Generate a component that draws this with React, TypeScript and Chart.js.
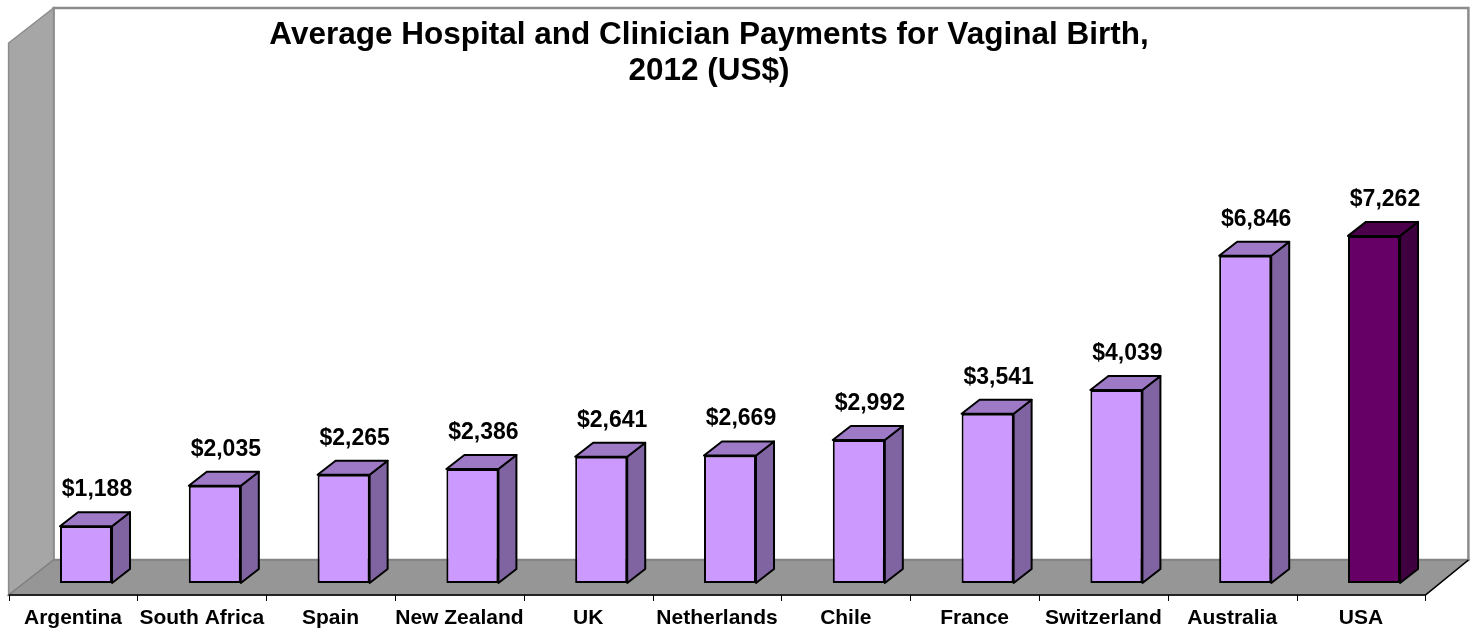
import { useEffect, useRef } from "react";
import { Chart, registerables } from "chart.js";

Chart.register(...registerables);

const categories = [
  "Argentina",
  "South Africa",
  "Spain",
  "New Zealand",
  "UK",
  "Netherlands",
  "Chile",
  "France",
  "Switzerland",
  "Australia",
  "USA",
];
const payments = [1188, 2035, 2265, 2386, 2641, 2669, 2992, 3541, 4039, 6846, 7262];
const titleLines = ["Average Hospital and Clinician Payments for Vaginal Birth,", "2012 (US$)"];
const highlighted = "USA";

const FONT = '"Liberation Sans", Arial, Helvetica, sans-serif';

const FRONT = "#cc99ff";
const SIDE = "#8064a2";
const TOP = "#9e7ac6";
const H_FRONT = "#660066";
const H_SIDE = "#3f003f";
const H_TOP = "#4c004c";

const DEPTH_X = 18;
const DEPTH_Y = -14;

const scene3d = {
  id: "scene3d",
  beforeDraw(chart: any) {
    const { ctx, chartArea: ca } = chart;
    const fx = -13;
    const fy = 12;
    const bx = 32;
    const by = -23;
    const frontY = ca.bottom + fy;
    const backY = ca.bottom + by;
    const frontL = ca.left + fx;
    const frontR = ca.right + fx;
    const backL = ca.left + bx;
    const backR = ca.right + bx - 2;
    const wallTop = 8;
    const sideTopFront = wallTop + (frontY - backY);
    ctx.save();
    ctx.lineJoin = "miter";
    // back wall
    ctx.beginPath();
    ctx.rect(backL, wallTop, backR - backL, backY - wallTop);
    ctx.fillStyle = "#ffffff";
    ctx.fill();
    ctx.lineWidth = 2.5;
    ctx.strokeStyle = "#8c8c8c";
    ctx.stroke();
    // side wall
    ctx.beginPath();
    ctx.moveTo(frontL, sideTopFront);
    ctx.lineTo(backL, wallTop);
    ctx.lineTo(backL, backY);
    ctx.lineTo(frontL, frontY);
    ctx.closePath();
    ctx.fillStyle = "#a6a6a6";
    ctx.fill();
    ctx.lineWidth = 1.5;
    ctx.strokeStyle = "#8c8c8c";
    ctx.stroke();
    // floor
    ctx.beginPath();
    ctx.moveTo(frontL, frontY);
    ctx.lineTo(backL, backY);
    ctx.lineTo(backR, backY);
    ctx.lineTo(frontR, frontY);
    ctx.closePath();
    ctx.fillStyle = "#969696";
    ctx.fill();
    ctx.strokeStyle = "#808080";
    ctx.lineWidth = 1.5;
    ctx.stroke();
    // front edge + right edge
    ctx.beginPath();
    ctx.moveTo(frontL, frontY);
    ctx.lineTo(frontR, frontY);
    ctx.lineTo(backR, backY);
    ctx.strokeStyle = "#000000";
    ctx.lineWidth = 1.5;
    ctx.stroke();
    // tick marks at category boundaries
    const n = chart.data.labels.length;
    const band = (ca.right - ca.left) / n;
    ctx.beginPath();
    for (let k = 0; k <= n; k++) {
      const x = Math.round(frontL + k * band) + 0.5;
      ctx.moveTo(x, frontY);
      ctx.lineTo(x, frontY + 6);
    }
    ctx.lineWidth = 1;
    ctx.stroke();
    // title
    ctx.font = `bold 31.5px ${FONT}`;
    ctx.fillStyle = "#000000";
    ctx.textAlign = "center";
    ctx.textBaseline = "middle";
    titleLines.forEach((line, i) => {
      ctx.fillText(line, 709, 35 + i * 36);
    });
    ctx.restore();
  },
  beforeDatasetsDraw(chart: any) {
    const { ctx } = chart;
    const meta = chart.getDatasetMeta(0);
    ctx.save();
    ctx.lineJoin = "round";
    ctx.lineWidth = 2;
    ctx.strokeStyle = "#000000";
    meta.data.forEach((el: any, i: number) => {
      const hi = chart.data.labels[i] === highlighted;
      const l = el.x - el.width / 2;
      const r = el.x + el.width / 2;
      const t = el.y;
      const b = el.base;
      // side
      ctx.beginPath();
      ctx.moveTo(r, t);
      ctx.lineTo(r + DEPTH_X, t + DEPTH_Y);
      ctx.lineTo(r + DEPTH_X, b + DEPTH_Y);
      ctx.lineTo(r, b);
      ctx.closePath();
      ctx.fillStyle = hi ? H_SIDE : SIDE;
      ctx.fill();
      ctx.stroke();
      // top
      ctx.beginPath();
      ctx.moveTo(l, t);
      ctx.lineTo(l + DEPTH_X, t + DEPTH_Y);
      ctx.lineTo(r + DEPTH_X, t + DEPTH_Y);
      ctx.lineTo(r, t);
      ctx.closePath();
      ctx.fillStyle = hi ? H_TOP : TOP;
      ctx.fill();
      ctx.stroke();
    });
    ctx.restore();
  },
  afterDatasetsDraw(chart: any) {
    const { ctx } = chart;
    const meta = chart.getDatasetMeta(0);
    const data = chart.data.datasets[0].data;
    ctx.save();
    ctx.font = `bold 23px ${FONT}`;
    ctx.fillStyle = "#000000";
    ctx.textAlign = "center";
    ctx.textBaseline = "alphabetic";
    meta.data.forEach((el: any, i: number) => {
      const text = "$" + Number(data[i]).toLocaleString("en-US");
      ctx.fillText(text, el.x + 11, el.y - 30);
    });
    ctx.restore();
  },
};

export default function App() {
  const ref = useRef<HTMLCanvasElement | null>(null);
  useEffect(() => {
    if (!ref.current) return;
    const chart = new Chart(ref.current, {
      type: "bar",
      data: {
        labels: categories,
        datasets: [
          {
            data: payments,
            backgroundColor: categories.map((c) => (c === highlighted ? H_FRONT : FRONT)),
            borderColor: "#000000",
            borderWidth: 2,
            borderSkipped: false,
            categoryPercentage: 1,
            barPercentage: 0.404,
          },
        ],
      },
      options: {
        responsive: false,
        animation: false,
        events: [],
        layout: { padding: { left: 21.6, right: 38.6, top: 200.6, bottom: 0 } },
        plugins: {
          legend: { display: false },
          tooltip: { enabled: false },
          title: { display: false },
        },
        scales: {
          x: {
            grid: { display: false, drawTicks: false },
            border: { display: false },
            ticks: {
              color: "#000000",
              font: { family: FONT, size: 21, weight: "bold" },
              padding: 23,
              labelOffset: -13,
              maxRotation: 0,
              autoSkip: false,
            },
            afterFit: (scale: any) => {
              scale.height = 48;
            },
          },
          y: {
            display: false,
            min: 0,
            max: 8000,
          },
        },
      },
      plugins: [scene3d],
    });
    return () => chart.destroy();
  }, []);
  return (
    <div style={{ position: "fixed", left: 0, top: 0, width: 1477, height: 631, background: "#ffffff" }}>
      <canvas ref={ref} width={1477} height={631} style={{ display: "block" }} />
    </div>
  );
}
